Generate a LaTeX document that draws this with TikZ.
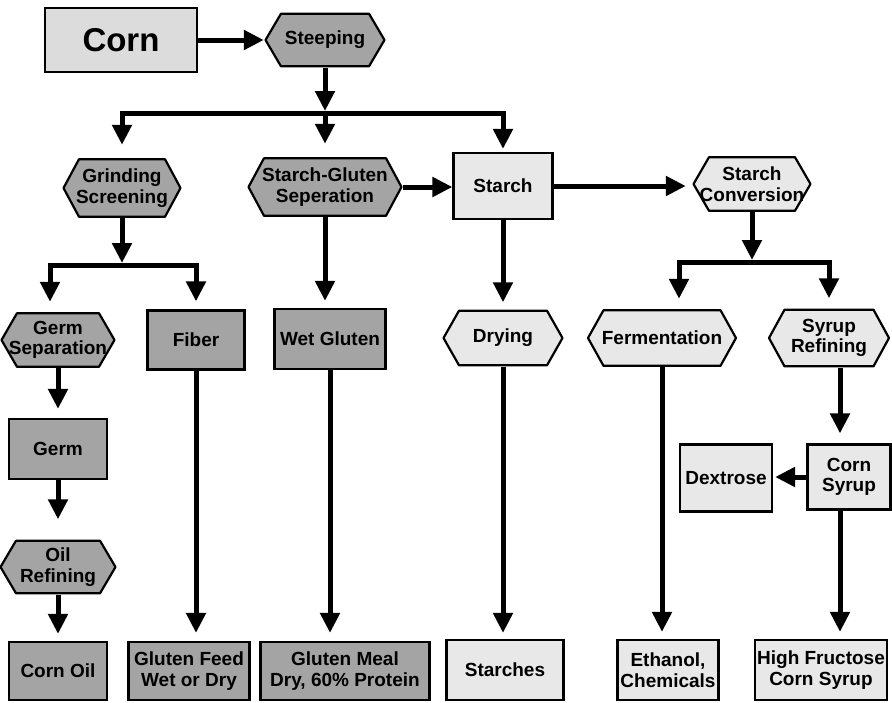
\documentclass[tikz,border=0pt]{standalone}
\usepackage{fontspec}
\setmainfont{Liberation Sans}
\usetikzlibrary{arrows.meta,calc}
\definecolor{darkfill}{HTML}{A4A4A4}
\definecolor{lightfill}{HTML}{E8E8E8}
\definecolor{cornfill}{HTML}{DCDCDC}
\newcommand{\hexcolor}{lightfill}
\tikzset{
  lbl/.style={font=\bfseries\fontsize{19}{20.5}\selectfont, align=center, inner sep=0pt},
  sz/.style 2 args={minimum width=#1pt, minimum height=#2pt},
  box/.style={lbl, draw, line width=2.2pt, fill=#1},
  hexcol/.code={\renewcommand{\hexcolor}{#1}},
  hexbox/.style={lbl, hexcol=#1, path picture={
    \filldraw[fill=\hexcolor, draw=black, line width=2.2pt, line join=round]
      ([xshift=1.5pt]path picture bounding box.west) --
      ([xshift=17pt,yshift=-1.2pt]path picture bounding box.north west) --
      ([xshift=-17pt,yshift=-1.2pt]path picture bounding box.north east) --
      ([xshift=-1.5pt]path picture bounding box.east) --
      ([xshift=-17pt,yshift=1.2pt]path picture bounding box.south east) --
      ([xshift=17pt,yshift=1.2pt]path picture bounding box.south west) -- cycle;}},
  arr/.style={line width=5pt, -{Triangle[width=19pt,length=20pt]}},
}
\begin{document}
\begin{tikzpicture}[x=1pt,y=-1pt]
\useasboundingbox (0,0) rectangle (892,702);
% top
\node[box=cornfill, sz={152}{64}, font=\bfseries\fontsize{33}{35}\selectfont] (corn) at (121,40) {Corn};
\node[hexbox=darkfill, sz={122}{55}] (steep) at (325,40) {Steeping};
% second row
\node[hexbox=darkfill, sz={120}{60}] (grind) at (122,188) {Grinding\\Screening};
\node[hexbox=darkfill, sz={156}{60}] (sgs) at (325,187) {Starch-Gluten\\Seperation};
\node[box=lightfill, sz={99}{66}] (starch) at (503,186) {Starch};
\node[hexbox=lightfill, sz={120}{56}] (sconv) at (752,184) {Starch\\Conversion};
% third row
\node[hexbox=darkfill, sz={116}{56}] (germsep) at (58,340) {Germ\\Separation};
\node[box=darkfill, sz={97}{59}] (fiber) at (196,340) {Fiber};
\node[box=darkfill, sz={111}{60}] (wetgluten) at (330,339) {Wet Gluten};
\node[hexbox=lightfill, sz={122}{57}] (drying) at (503,338) {Drying};
\node[hexbox=lightfill, sz={151}{58}] (ferm) at (662,338) {Fermentation};
\node[hexbox=lightfill, sz={123}{59}] (syrup) at (829,338) {Syrup\\Refining};
% middle left / right
\node[box=darkfill, sz={98}{60}] (germ) at (58,449) {Germ};
\node[hexbox=darkfill, sz={118}{55}] (oil) at (58,567) {Oil\\Refining};
\node[box=lightfill, sz={92}{67}] (dextrose) at (726,478) {Dextrose};
\node[box=lightfill, sz={83}{65}] (cornsyrup) at (849,477) {Corn\\Syrup};
% bottom row
\node[box=darkfill, sz={98}{58}] (cornoil) at (58,671) {Corn Oil};
\node[box=darkfill, sz={121}{58}] (glfeed) at (189,671) {Gluten Feed\\Wet or Dry};
\node[box=darkfill, sz={169}{58}] (glmeal) at (345,671) {Gluten Meal\\Dry, 60\% Protein};
\node[box=lightfill, sz={117}{60}] (starches) at (505,670) {Starches};
\node[box=lightfill, sz={101}{60}] (ethanol) at (668,670) {Ethanol,\\Chemicals};
\node[box=lightfill, sz={132}{60}] (hfcs) at (821,670) {High Fructose\\Corn Syrup};
% junctions
\coordinate (j1) at (325,113);
\coordinate (j2) at (122,265);
\coordinate (j3) at (752,262);
% connectors
\draw[arr] (corn.east) -- (steep.west);
\draw[arr, shorten >=2pt] (steep) -- (j1);
\draw[arr, shorten >=13pt] (j1) -| (grind.north);
\draw[arr, shorten >=13pt] (j1) -- (sgs.north);
\draw[arr, shorten >=3pt] (j1) -| (starch.north);
\draw[arr] (sgs.east) -- (sgs.east -| starch.west);
\draw[arr, shorten >=6pt] (starch.east) -- (starch.east -| sconv.west);
\draw[arr, shorten >=2pt] (sconv) -- (j3);
\draw[arr, shorten >=10pt] (j3) -| ([xshift=17pt]ferm.north);
\draw[arr, shorten >=10pt] (j3) -| (syrup.north);
\draw[arr, shorten >=2pt] (grind) -- (j2);
\draw[arr, shorten >=10pt] (j2) -| ([xshift=-8pt]germsep.north);
\draw[arr, shorten >=8pt] (j2) -| (fiber.north);
\draw[arr, shorten >=7pt] (sgs.south) -- (sgs.south |- wetgluten.north);
\draw[arr, shorten >=7pt] (starch) -- (drying);
\draw[arr, shorten >=9pt] (germsep) -- (germ);
\draw[arr, shorten >=20pt] (germ) -- (oil);
\draw[arr, shorten >=7pt] (oil) -- (cornoil);
\draw[arr, shorten >=8pt] (fiber.south) -- (fiber.south |- glfeed.north);
\draw[arr, shorten >=8pt] (wetgluten.south) -- (wetgluten.south |- glmeal.north);
\draw[arr, shorten >=6pt] (drying.south) -- (drying.south |- starches.north);
\draw[arr, shorten >=7pt] (ferm.south) -- (ferm.south |- ethanol.north);
\draw[arr, shorten >=10pt] ([xshift=11pt]syrup.south) -- ([xshift=11pt]syrup.south |- cornsyrup.north);
\draw[arr, shorten >=2pt] (cornsyrup.west) -- (cornsyrup.west -| dextrose.east);
\draw[arr, shorten >=7pt] ([xshift=-9pt]cornsyrup.south) -- ([xshift=-9pt]cornsyrup.south |- hfcs.north);
\end{tikzpicture}
\end{document}
